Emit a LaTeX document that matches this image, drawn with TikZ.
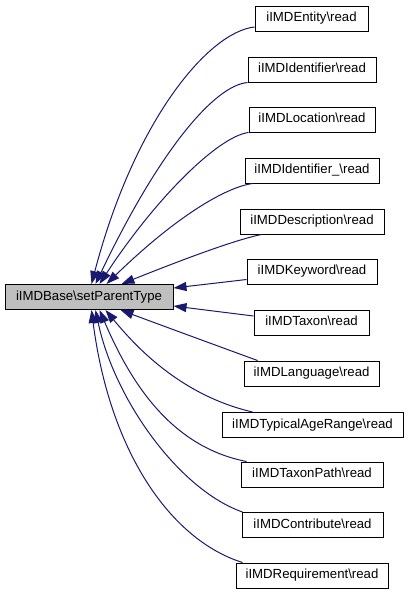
\documentclass[tikz,border=0pt]{standalone}
\usepackage{fontspec}
\setmainfont{Liberation Sans}
\usetikzlibrary{arrows.meta,calc}
\definecolor{edgeblue}{HTML}{191970}
\definecolor{rootgray}{HTML}{BFBFBF}
\begin{document}
\begin{tikzpicture}[x=1pt,y=-1pt,
  box/.style={draw=black, line width=1pt, fill=white, minimum height=25pt,
    inner sep=0pt, text height=9.6pt, text depth=3.2pt,
    font=\fontsize{13.2}{15}\selectfont},
  rootbox/.style={box, fill=rootgray},
  link/.style={draw=edgeblue, line width=1pt, -{Triangle[length=13pt,width=9pt]}, fill=none}
]
\useasboundingbox (0,0) rectangle (408,595);

\node[rootbox, minimum width=168pt] (b) at (89,297) {iIMDBase\textbackslash setParentType};

\node[box, minimum width=113pt] (e1)  at (311.5,18.5)  {iIMDEntity\textbackslash read};
\node[box, minimum width=128pt] (e2)  at (312,69.5)    {iIMDIdentifier\textbackslash read};
\node[box, minimum width=126pt] (e3)  at (312,119.5)   {iIMDLocation\textbackslash read};
\node[box, minimum width=134pt] (e4)  at (312,170.5)   {iIMDIdentifier\_\textbackslash read};
\node[box, minimum width=144pt] (e5)  at (312,221.5)   {iIMDDescription\textbackslash read};
\node[box, minimum width=130pt] (e6)  at (312,271.5)   {iIMDKeyword\textbackslash read};
\node[box, minimum width=115pt] (e7)  at (311.5,322.5) {iIMDTaxon\textbackslash read};
\node[box, minimum width=135pt] (e8)  at (311.5,373.5) {iIMDLanguage\textbackslash read};
\node[box, minimum width=181pt] (e9)  at (312.5,425)   {iIMDTypicalAgeRange\textbackslash read};
\node[box, minimum width=142pt] (e10) at (312,474.5)   {iIMDTaxonPath\textbackslash read};
\node[box, minimum width=141pt] (e11) at (312.5,525)   {iIMDContribute\textbackslash read};
\node[box, minimum width=152pt] (e12) at (312,575.5)   {iIMDRequirement\textbackslash read};

\draw[link] ($(e1.west)+(0,8.5)$) .. controls +(-46,5) and +(43,-164) .. ($(b.north west)+(87,0)$);
\draw[link] (e2.south west) .. controls +(-33,3) and +(64,-134) .. ($(b.north west)+(91,0)$);
\draw[link] (e3.south west) .. controls +(-31,4) and +(55,-84) .. ($(b.north west)+(95,0)$);
\draw[link] ($(e4.south west)+(8,0)$) .. controls +(-28,4) and +(68,-66) .. ($(b.north west)+(102,0)$);
\draw[link] ($(e5.south west)+(22,0)$) .. controls +(-30,6) and +(45,-18) .. ($(b.north west)+(117,0)$);
\draw[link] ($(e6.west)+(0,8)$) -- ($(b.east)+(0,-9)$);
\draw[link] ($(e7.west)+(0,-6.5)$) -- ($(b.east)+(0,9)$);
\draw[link] ($(e8.north west)+(14,0)$) .. controls +(-30,-11) and +(40,15) .. ($(b.south west)+(116,0)$);
\draw[link] ($(e9.north west)+(31,0)$) .. controls +(-73,-17) and +(29,35) .. ($(b.south west)+(101,0)$);
\draw[link] ($(e10.north west)+(6,0)$) .. controls +(-77,-15) and +(30,70) .. ($(b.south west)+(95,0)$);
\draw[link] ($(e11.north west)+(1,0)$) .. controls +(-63,-22) and +(19,90) .. ($(b.south west)+(91,0)$);
\draw[link] ($(e12.north west)+(7,0)$) .. controls +(-73,-23) and +(18,140) .. ($(b.south west)+(87,0)$);
\end{tikzpicture}
\end{document}
